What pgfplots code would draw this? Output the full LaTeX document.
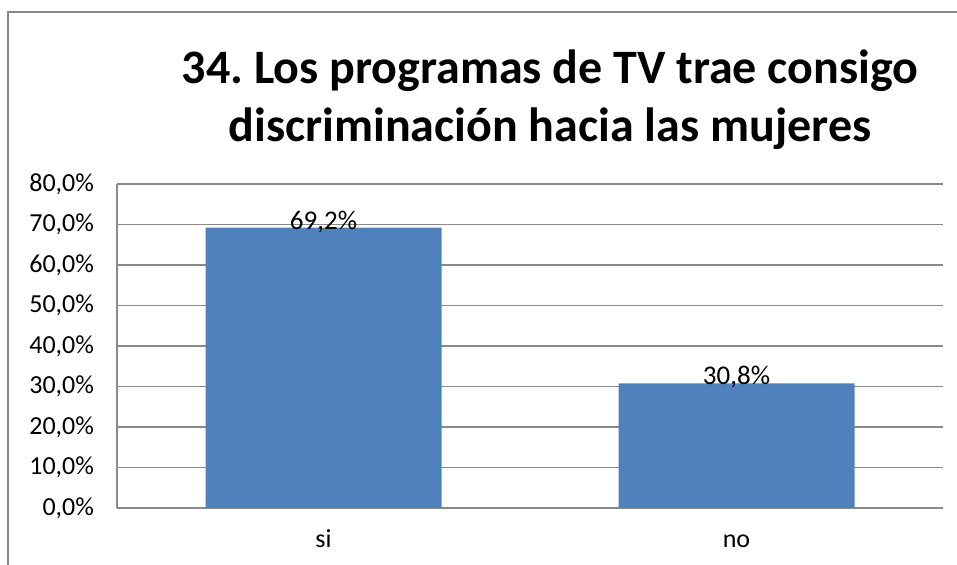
\documentclass[border=0pt]{standalone}
\usepackage{pgfplots}
\pgfplotsset{compat=1.18}
\usepackage{fontspec}
\setmainfont{Carlito}
\definecolor{barblue}{HTML}{4F81BD}
\definecolor{gridgray}{HTML}{8A8A8A}
\begin{document}
\frenchspacing
\begin{tikzpicture}[x=1pt,y=1pt]
\useasboundingbox (0,0) rectangle (478.5,282.5);
\draw[gridgray, line width=1pt] (4,0) -- (4,276.5) -- (480,276.5);
\node[font=\fontsize{24}{29}\selectfont\bfseries, align=center] at (275,232.5) {34. Los programas de TV trae consigo\\discriminación hacia las mujeres};
\begin{axis}[
  at={(58.5pt,28.5pt)}, anchor=south west,
  scale only axis, width=413pt, height=162pt,
  xmin=-0.5, xmax=1.5, ymin=0, ymax=80,
  xtick={0,1}, xticklabels={si,no},
  ytick={0,10,...,80},
  yticklabel={\pgfmathprintnumber[fixed,fixed zerofill,precision=1,use comma]{\tick}\%},
  /pgf/number format/assume math mode=true,
  ticklabel style={font=\fontsize{13}{15}\selectfont, text=black},
  xticklabel style={anchor=base, yshift=-20pt},
  yticklabel style={xshift=-8pt},
  axis x line*=bottom, axis y line*=left,
  axis line style={gridgray, line width=0.6pt, -},
  major tick length=0pt,
  ymajorgrids, major grid style={gridgray, line width=0.6pt},
  ybar, bar width=118pt,
  nodes near coords={\pgfmathprintnumber[fixed,fixed zerofill,precision=1,use comma]{\pgfplotspointmeta}\%},
  nodes near coords style={font=\fontsize{13.5}{15}\selectfont, text=black, anchor=south, inner sep=0pt, yshift=-2.8pt},
  clip=false,
]
\addplot[fill=barblue, draw=none] coordinates {(0,69.2) (1,30.8)};
\end{axis}
\end{tikzpicture}
\end{document}
